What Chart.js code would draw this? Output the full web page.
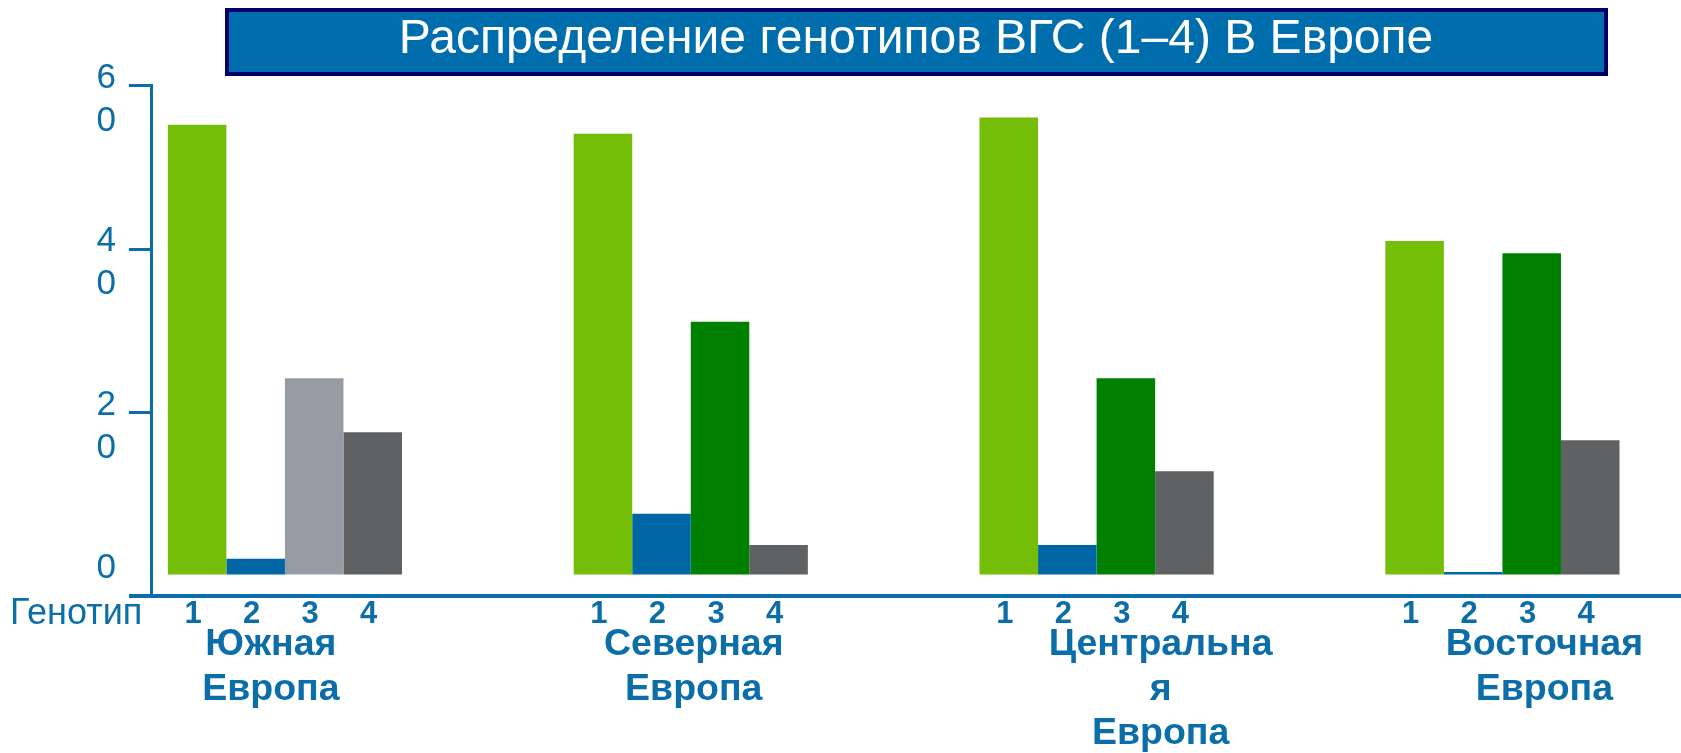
<!DOCTYPE html>
<html>
<head>
<meta charset="utf-8">
<script src="https://cdn.jsdelivr.net/npm/chart.js@4.4.1/dist/chart.umd.min.js"></script>
<style>
  html, body { margin: 0; padding: 0; background: #fff; }
  #wrap { width: 1681px; height: 753px; }
</style>
</head>
<body>
<div id="wrap"><canvas id="genotypes"></canvas></div>
<script>
const regions = [['Южная', 'Европа'], ['Северная', 'Европа'], ['Центральна', 'я', 'Европа'], ['Восточная', 'Европа']];
const genotypes = ['1', '2', '3', '4'];
const genotype1 = [55.2, 54.1, 56.1, 41.0];
const genotype2 = [2.1, 7.6, 3.8, 0.5];
const genotype3 = [24.2, 31.1, 24.2, 39.5];
const genotype4 = [17.6, 3.8, 12.8, 16.6];
const yTicks = [0, 20, 40, 60];

const blue = '#0b6ea8';
const font = '"Liberation Sans", Arial, sans-serif';
const yMin = -2.45;
// small sideways shift of the region names, as in the original slide
const regionNudge = [-14, 3, 64, 42];

const toPoints = vals => vals.map((v, i) => ({ x: i, y: v }));

const titleBox = {
  id: 'titleBox',
  beforeDraw(chart) {
    const ctx = chart.ctx;
    ctx.save();
    ctx.fillStyle = '#006eac';
    ctx.strokeStyle = '#000068';
    ctx.lineWidth = 4;
    ctx.fillRect(227, 10, 1379, 64);
    ctx.strokeRect(227, 10, 1379, 64);
    ctx.restore();
  }
};

const bottomLabels = {
  id: 'bottomLabels',
  afterDraw(chart) {
    const ctx = chart.ctx;
    const x = chart.scales.x;
    ctx.save();
    ctx.fillStyle = blue;
    ctx.textBaseline = 'middle';
    ctx.textAlign = 'center';
    ctx.font = 'bold 31px ' + font;
    chart.data.datasets.forEach((ds, di) => {
      chart.getDatasetMeta(di).data.forEach(bar => ctx.fillText(ds.label, bar.x - 4, 614));
    });
    ctx.textAlign = 'left';
    ctx.font = '36px ' + font;
    ctx.fillText('Генотип', 10, 614);
    ctx.textAlign = 'center';
    ctx.font = 'bold 37.5px ' + font;
    regions.forEach((lines, i) => {
      const cx = x.getPixelForValue(i) + regionNudge[i];
      lines.forEach((t, k) => ctx.fillText(t, cx, 645 + k * 44.5));
    });
    ctx.restore();
  }
};

new Chart(document.getElementById('genotypes'), {
  type: 'bar',
  data: {
    datasets: [
      { label: genotypes[0], data: toPoints(genotype1), backgroundColor: '#74be0a' },
      { label: genotypes[1], data: toPoints(genotype2), backgroundColor: '#0066a6' },
      { label: genotypes[2], data: toPoints(genotype3), backgroundColor: ['#959ca3', '#008000', '#008000', '#008000'] },
      { label: genotypes[3], data: toPoints(genotype4), backgroundColor: '#606163' }
    ]
  },
  options: {
    responsive: true,
    maintainAspectRatio: false,
    animation: false,
    categoryPercentage: 0.577,
    barPercentage: 1.0,
    layout: { padding: 0 },
    plugins: {
      legend: { display: false },
      tooltip: { enabled: false },
      title: {
        display: true,
        fullSize: false,
        text: 'Распределение генотипов ВГС (1–4) В Европе',
        color: '#ffffff',
        font: { family: font, size: 48, weight: 'normal' },
        padding: { top: 11, bottom: 17 }
      }
    },
    scales: {
      x: {
        type: 'linear',
        offset: false,
        min: -0.33,
        max: 3.44,
        afterBuildTicks: s => { s.ticks = regions.map((r, i) => ({ value: i })); },
        afterFit: s => { s.height = 157; },
        ticks: { display: false },
        grid: { display: false, offset: false },
        border: { color: blue, width: 4 }
      },
      y: {
        min: yMin,
        max: 60,
        afterBuildTicks: s => { s.ticks = [yMin].concat(yTicks).map(v => ({ value: v })); },
        afterFit: s => { s.width = 151; },
        ticks: {
          autoSkip: false,
          color: blue,
          padding: 13,
          labelOffset: 14,
          font: { family: font, size: 35, lineHeight: 1.23 },
          callback: v => v === yMin ? '' : (v === 0 ? ['0', ''] : String(v).split(''))
        },
        grid: {
          drawOnChartArea: false,
          tickLength: 22,
          color: c => c.tick && c.tick.value === 0 ? 'rgba(0,0,0,0)' : blue,
          lineWidth: c => c.tick && c.tick.value === yMin ? 4 : 3
        },
        border: { color: blue, width: 3 }
      }
    }
  },
  plugins: [titleBox, bottomLabels]
});
</script>
</body>
</html>
